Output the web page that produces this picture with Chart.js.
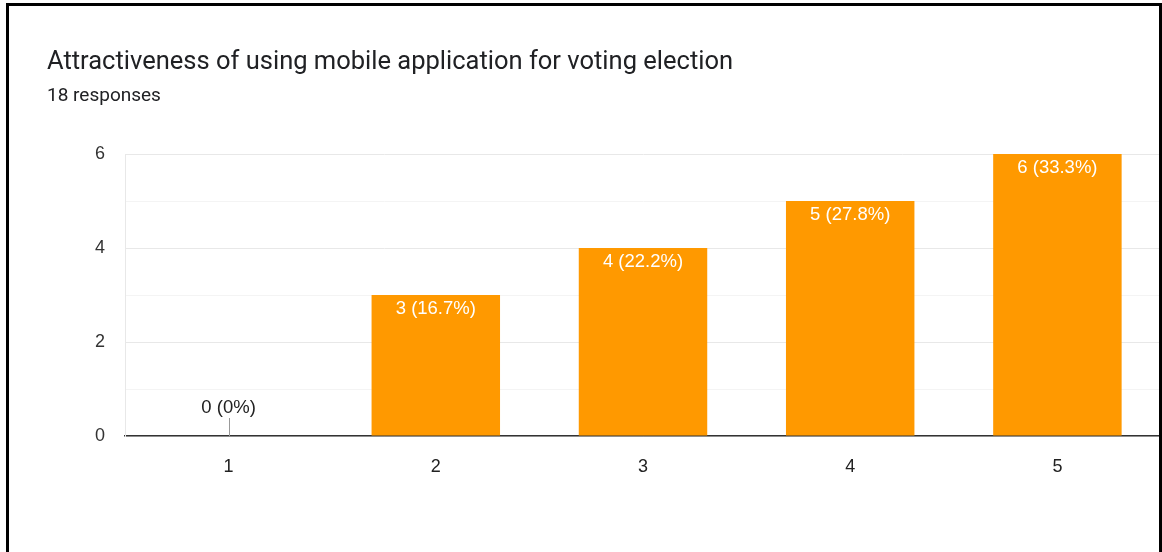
<!DOCTYPE html>
<html>
<head>
<meta charset="utf-8">
<script src="https://cdn.jsdelivr.net/npm/chart.js@4.4.1/dist/chart.umd.min.js"></script>
<style>
  html, body { margin: 0; padding: 0; background: #fff; overflow: hidden; }
  #wrap { position: relative; width: 1162px; height: 552px; }
  #chart { position: absolute; left: 0; top: 0; }
  .frame {
    position: absolute; left: 6px; top: 3px; width: 1156px; height: 620px;
    box-sizing: border-box; border: 3px solid #000; pointer-events: none;
  }
  .title {
    position: absolute; left: 47px; top: 45px;
    font: 25.5px/30px Roboto, "Noto Sans", sans-serif; color: #202124;
    white-space: nowrap;
  }
  .subtitle {
    position: absolute; left: 47px; top: 84px;
    font: 19px/22px Roboto, "Noto Sans", sans-serif; color: #202124;
  }
</style>
</head>
<body>
<div id="wrap">
  <canvas id="chart" width="1162" height="552"></canvas>
  <div class="title">Attractiveness of using mobile application for voting election</div>
  <div class="subtitle" id="responses"></div>
  <div class="frame"></div>
</div>
<script>
// Rating scale and how many people picked each value
const ratings = ['1', '2', '3', '4', '5'];
const counts = [0, 3, 4, 5, 6];
const yTicks = [0, 2, 4, 6];

const total = counts.reduce((a, b) => a + b, 0);
document.getElementById('responses').textContent = total + ' responses';

function pctLabel(v) {
    const p = Math.round(v / total * 1000) / 10;
    return v + ' (' + p + '%)';
}

// Draws "n (x%)" on each bar; zero bars get a small stub and a dark label
const barLabels = {
    id: 'barLabels',
    afterDatasetsDraw(chart) {
        const ctx = chart.ctx;
        const meta = chart.getDatasetMeta(0);
        ctx.save();
        ctx.font = '18.5px "Liberation Sans", Arial, sans-serif';
        ctx.textAlign = 'center';
        ctx.textBaseline = 'middle';
        meta.data.forEach((bar, i) => {
            const v = counts[i];
            const text = pctLabel(v);
            if (v === 0) {
                ctx.strokeStyle = '#999';
                ctx.lineWidth = 1;
                ctx.beginPath();
                ctx.moveTo(Math.round(bar.x) + 0.5, bar.base);
                ctx.lineTo(Math.round(bar.x) + 0.5, bar.base - 18);
                ctx.stroke();
                ctx.fillStyle = '#222';
                ctx.fillText(text, bar.x, bar.base - 28);
            } else {
                ctx.fillStyle = '#fff';
                ctx.fillText(text, bar.x, bar.y + 14);
            }
        });
        ctx.restore();
    }
};

new Chart(document.getElementById('chart').getContext('2d'), {
    type: 'bar',
    data: {
        labels: ratings,
        datasets: [{
            data: counts,
            backgroundColor: '#ff9900',
            borderWidth: 0,
            barPercentage: 0.62,
            categoryPercentage: 1
        }]
    },
    options: {
        responsive: false,
        animation: false,
        layout: { padding: { top: 154, right: 1, bottom: 0, left: 0 } },
        plugins: {
            legend: { display: false },
            tooltip: { enabled: false }
        },
        scales: {
            x: {
                grid: { display: false },
                border: { display: true, color: '#333', width: 1.5 },
                ticks: {
                    padding: 12,
                    color: '#222',
                    font: { family: '"Liberation Sans", Arial, sans-serif', size: 18 }
                },
                afterFit(scale) { scale.height = 116; }
            },
            y: {
                min: 0,
                max: 6,
                grid: {
                    drawTicks: false,
                    color: (c) => (c.tick && c.tick.value % 2 === 0) ? '#e8e8e8' : '#f4f4f4'
                },
                border: { display: true, color: '#e8e8e8' },
                ticks: {
                    stepSize: 1,
                    padding: 20,
                    color: '#333',
                    font: { family: '"Liberation Sans", Arial, sans-serif', size: 18 },
                    callback: (v) => yTicks.includes(v) ? v : ''
                },
                afterFit(scale) { scale.width = 125; }
            }
        }
    },
    plugins: [barLabels]
});
</script>
</body>
</html>
